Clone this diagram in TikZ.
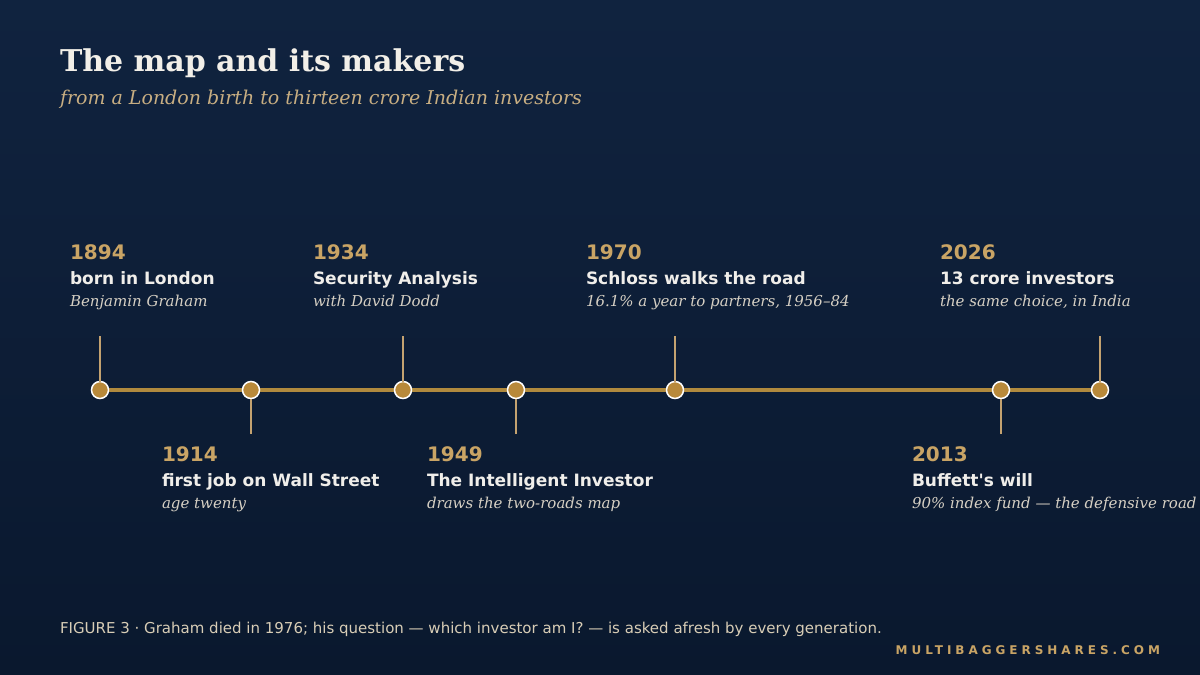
\documentclass[tikz,border=0pt]{standalone}
\usepackage{fontspec}
\setmainfont{DejaVu Serif}
\setsansfont{DejaVu Sans}
\newfontfamily\spacedfont[LetterSpace=33]{DejaVu Sans}
\newfontfamily\headfont[Ligatures=TeXOff]{DejaVu Sans}
\definecolor{bgtop}{HTML}{10233F}
\definecolor{bgbot}{HTML}{0A182E}
\definecolor{gold}{HTML}{C9A465}
\definecolor{linegold}{HTML}{B08A3E}
\definecolor{dotgold}{HTML}{B8893A}
\definecolor{titlewhite}{HTML}{F2EFE8}
\definecolor{subgold}{HTML}{C8AE82}
\definecolor{labwhite}{HTML}{F0EEEA}
\definecolor{descgray}{HTML}{D6D0C4}
\definecolor{foot}{HTML}{D8CDB6}
\definecolor{tickc}{HTML}{C4A270}
\begin{document}
\begin{tikzpicture}[x=1pt,y=-1pt,
  every node/.style={inner sep=0pt,outer sep=0pt,anchor=base west},
  yearlab/.style={font=\sffamily\bfseries\fontsize{20}{24}\selectfont,text=gold},
  headlab/.style={font=\headfont\bfseries\fontsize{17}{20}\selectfont,text=labwhite},
  desclab/.style={font=\itshape\fontsize{15}{18}\selectfont,text=descgray},
  dotmark/.style={circle,draw=white,line width=1.5pt,fill=dotgold,minimum size=17pt,inner sep=0pt,anchor=center},
  tickline/.style={draw=tickc,line width=1.5pt},
  mainline/.style={draw=linegold,line width=4pt}]
\useasboundingbox (0,0) rectangle (1200,675);
\shade[top color=bgtop,bottom color=bgbot] (0,0) rectangle (1200,675);

\node[font=\bfseries\fontsize{30}{35}\selectfont,text=titlewhite] (title) at (60,71) {The map and its makers};
\node[font=\itshape\fontsize{19}{23}\selectfont,text=subgold] (subtitle) at (60,104) {from a London birth to thirteen crore Indian investors};

% timeline
\coordinate (start) at (100,390);
\coordinate (end) at (1100,390);
\draw[mainline] (start) -- (end);

% tick anchors
\coordinate (t1894) at (100,336);
\coordinate (t1914) at (251,434);
\coordinate (t1934) at (403,336);
\coordinate (t1949) at (516,434);
\coordinate (t1970) at (675,336);
\coordinate (t2013) at (1001,434);
\coordinate (t2026) at (1100,336);

\node[dotmark] (d1894) at (100,390) {};
\node[dotmark] (d1914) at (251,390) {};
\node[dotmark] (d1934) at (403,390) {};
\node[dotmark] (d1949) at (516,390) {};
\node[dotmark] (d1970) at (675,390) {};
\node[dotmark] (d2013) at (1001,390) {};
\node[dotmark] (d2026) at (1100,390) {};

\draw[tickline] (t1894) -- (d1894.north);
\draw[tickline] (t1914) -- (d1914.south);
\draw[tickline] (t1934) -- (d1934.north);
\draw[tickline] (t1949) -- (d1949.south);
\draw[tickline] (t1970) -- (d1970.north);
\draw[tickline] (t2013) -- (d2013.south);
\draw[tickline] (t2026) -- (d2026.north);

% upper labels
\node[yearlab] (y1894) at (70,259) {1894};
\node[headlab] (h1894) at (70,284) {born in London};
\node[desclab] (s1894) at (70,306) {Benjamin Graham};

\node[yearlab] (y1934) at (313,259) {1934};
\node[headlab] (h1934) at (313,284) {Security Analysis};
\node[desclab] (s1934) at (313,306) {with David Dodd};

\node[yearlab] (y1970) at (586,259) {1970};
\node[headlab] (h1970) at (586,284) {Schloss walks the road};
\node[desclab] (s1970) at (586,306) {16.1\% a year to partners, 1956–84};

\node[yearlab] (y2026) at (940,259) {2026};
\node[headlab] (h2026) at (940,284) {13 crore investors};
\node[desclab] (s2026) at (940,306) {the same choice, in India};

% lower labels
\node[yearlab] (y1914) at (162,461) {1914};
\node[headlab] (h1914) at (162,486) {first job on Wall Street};
\node[desclab] (s1914) at (162,508) {age twenty};

\node[yearlab] (y1949) at (427,461) {1949};
\node[headlab] (h1949) at (427,486) {The Intelligent Investor};
\node[desclab] (s1949) at (427,508) {draws the two-roads map};

\node[yearlab] (y2013) at (912,461) {2013};
\node[headlab] (h2013) at (912,486) {Buffett's will};
\node[desclab] (s2013) at (912,508) {90\% index fund — the defensive road};

% footer
\node[font=\sffamily\fontsize{15}{18}\selectfont,text=foot] (caption) at (60,633) {FIGURE 3 · Graham died in 1976; his question — which investor am I? — is asked afresh by every generation.};
\node[font=\spacedfont\bfseries\fontsize{12}{14}\selectfont,text=gold,anchor=base east] (brand) at (1160,654) {MULTIBAGGERSHARES.COM};
\end{tikzpicture}
\end{document}
